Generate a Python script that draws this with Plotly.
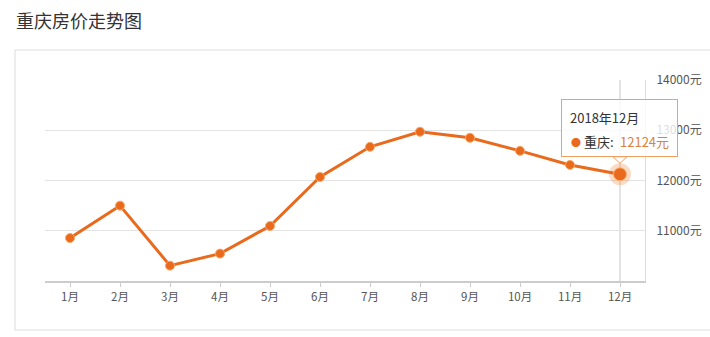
import plotly.graph_objects as go

months = ["1月", "2月", "3月", "4月", "5月", "6月", "7月", "8月", "9月", "10月", "11月", "12月"]
prices = [10855, 11500, 10305, 10545, 11095, 12070, 12670, 12970, 12850, 12590, 12310, 12124]
y_ticks = [11000, 12000, 13000, 14000]
y_tick_labels = ["11000元", "12000元", "13000元", "14000元"]
title_text = "重庆房价走势图"
series_name = "重庆"
tip_period = "2018年12月"

ORANGE = "#e96a1d"
FONT = "Noto Sans CJK SC, Microsoft YaHei, sans-serif"

fig = go.Figure()

# halo for highlighted (last) point
fig.add_trace(go.Scatter(
    x=[months[-1]], y=[prices[-1]], mode="markers",
    marker=dict(size=22, color="rgba(240,140,60,0.30)", line=dict(width=0)),
    hoverinfo="skip", showlegend=False,
))
fig.add_trace(go.Scatter(
    x=months, y=prices, mode="lines+markers", name=series_name,
    line=dict(color=ORANGE, width=3),
    marker=dict(size=9, color=ORANGE, line=dict(color="#f6a766", width=1)),
    showlegend=False,
))
fig.add_trace(go.Scatter(
    x=[months[-1]], y=[prices[-1]], mode="markers",
    marker=dict(size=13, color=ORANGE, line=dict(color="#f8b27a", width=1)),
    hoverinfo="skip", showlegend=False,
))

L, R, T, B = 45, 65, 80, 56
PW, PH = 710 - L - R, 337 - T - B

def px(x):
    return (x - L) / PW

def py(y):
    return (337 - B - y) / PH

last_i = len(months) - 1
tip = dict(xref="x", yref="y", xsizemode="pixel", ysizemode="pixel",
           xanchor=last_i, yanchor=prices[-1])

shapes = [
    # card border
    dict(type="rect", xref="paper", yref="paper",
         x0=px(15), x1=px(713), y0=py(330), y1=py(50),
         line=dict(color="#dcdcdc", width=1), fillcolor="rgba(0,0,0,0)", layer="below"),
    # crosshair
    dict(type="line", xref="x", yref="paper", x0=last_i, x1=last_i,
         y0=0, y1=1, line=dict(color="#c8c8c8", width=1), layer="below"),
    # tooltip pointer
    dict(type="path", path="M -7,17.5 L 0,11 L 7,17.5 Z",
         fillcolor="white", line=dict(color="#f0a060", width=1), layer="above", **tip),
]

annotations = [
    dict(text=title_text, xref="paper", yref="paper", x=px(14), y=py(20),
         xanchor="left", yanchor="middle", showarrow=False,
         font=dict(size=18, color="#333", family=FONT)),
    # tooltip box (annotation layer so it sits above the axis labels)
    dict(text=" ", xref="x", yref="y", x=months[-1], y=prices[-1], yshift=17,
         xshift=-0.5, xanchor="center", yanchor="bottom", showarrow=False,
         width=115, height=56, borderpad=0,
         bgcolor="rgba(255,255,255,0.8)", bordercolor="#f0a060", borderwidth=1),
    dict(text=tip_period, xref="x", yref="y", x=months[-1], y=prices[-1],
         xshift=-52, yshift=57, xanchor="left", yanchor="middle", showarrow=False,
         font=dict(size=13, color="#333", family=FONT)),
    dict(text=f"<span style='color:{ORANGE};font-size:10px'>●</span> {series_name}:",
         xref="x", yref="y", x=months[-1], y=prices[-1],
         xshift=-51, yshift=33, xanchor="left", yanchor="middle", showarrow=False,
         font=dict(size=13, color="#333", family=FONT)),
    dict(text=f"{prices[-1]}元", xref="x", yref="y", x=months[-1], y=prices[-1],
         xshift=-2, yshift=33, xanchor="left", yanchor="middle", showarrow=False,
         font=dict(size=13, color="#d5843a", family=FONT)),
]

fig.update_layout(
    width=710, height=337,
    margin=dict(l=L, r=R, t=T, b=B, autoexpand=False),
    paper_bgcolor="white", plot_bgcolor="white",
    font=dict(family=FONT, color="#555", size=11),
    shapes=shapes, annotations=annotations,
    xaxis=dict(type="category", categoryorder="array", categoryarray=months,
               range=[-0.5, len(months) - 0.5], showgrid=False, automargin=False,
               showline=True, linecolor="#cccccc", linewidth=2,
               ticks="outside", ticklen=4, tickcolor="#cccccc",
               tickfont=dict(size=11.5, color="#555"), fixedrange=True),
    yaxis=dict(side="right", range=[10000, 14000], tickmode="array",
               tickvals=y_ticks, ticktext=y_tick_labels, automargin=False,
               showgrid=True, gridcolor="#e3e3e3", gridwidth=1,
               showline=True, linecolor="#dddddd", linewidth=1,
               zeroline=False, ticks="", tickfont=dict(size=12, color="#555"),
               ticklabelstandoff=8),
    hovermode=False,
)

fig.write_html("out.html")
